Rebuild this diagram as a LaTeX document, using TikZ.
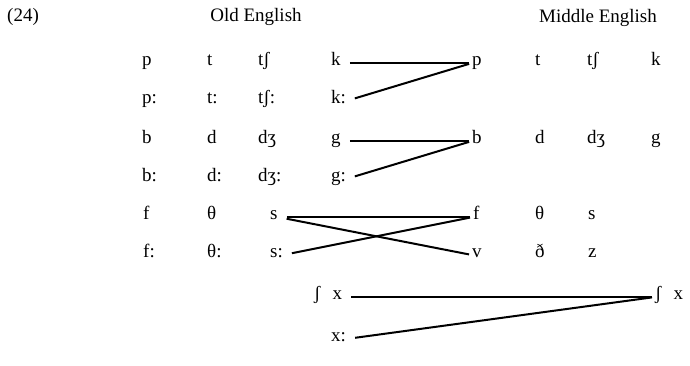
\documentclass[tikz,border=0pt]{standalone}
\usepackage{fontspec}
\setmainfont{Liberation Serif}
\usepackage{tikz}
\usetikzlibrary{positioning}

\begin{document}
\begin{tikzpicture}[
  x=1pt, y=-1pt,
  seg/.style={inner sep=0pt, anchor=west, font=\fontsize{19}{22}\selectfont,
              text height=1.5ex, text depth=.25ex},
  hd/.style={inner sep=0pt, font=\fontsize{19}{22}\selectfont},
  link/.style={line width=2pt, shorten <=9pt, shorten >=3pt},
  ]
  \useasboundingbox (0,0) rectangle (690,366);

  % headings
  \node[hd, anchor=west] (num) at (7,17) {(24)};
  \node[hd] (oe) at (256,17) {Old English};
  \node[hd] (me) at (598,18) {Middle English};

  % Old English
  \node[seg] (op)  at (142,63)  {p};
  \node[seg] (ot)  at (207,63)  {t};
  \node[seg] (otf) at (258,63)  {tʃ};
  \node[seg] (ok)  at (331,63)  {k};
  \node[seg] (opl)  at (142,101) {p:};
  \node[seg] (otl)  at (207,101) {t:};
  \node[seg] (otfl) at (258,101) {tʃ:};
  \node[seg] (okl)  at (331,101) {k:};
  \node[seg] (ob)  at (142,141) {b};
  \node[seg] (od)  at (207,141) {d};
  \node[seg] (odz) at (258,141) {dʒ};
  \node[seg] (og)  at (331,141) {g};
  \node[seg] (obl)  at (142,179) {b:};
  \node[seg] (odl)  at (207,179) {d:};
  \node[seg] (odzl) at (258,179) {dʒ:};
  \node[seg] (ogl)  at (331,179) {g:};
  \node[seg] (of)  at (143,217) {f};
  \node[seg] (oth) at (207,217) {θ};
  \node[seg] (os)  at (270,217) {s};
  \node[seg] (ofl)  at (143,255) {f:};
  \node[seg] (othl) at (207,255) {θ:};
  \node[seg] (osl)  at (270,255) {s:};
  \node[seg] (oshx) at (314,297) {ʃ\hspace{12pt}x};
  \node[seg] (oxl)  at (331,339) {x:};

  % Middle English
  \node[seg] (mp)  at (472,63)  {p};
  \node[seg] (mt)  at (535,63)  {t};
  \node[seg] (mtf) at (587,63)  {tʃ};
  \node[seg] (mk)  at (651,63)  {k};
  \node[seg] (mb)  at (472,141) {b};
  \node[seg] (md)  at (535,141) {d};
  \node[seg] (mdz) at (587,141) {dʒ};
  \node[seg] (mg)  at (651,141) {g};
  \node[seg] (mf)  at (473,217) {f};
  \node[seg] (mth) at (535,217) {θ};
  \node[seg] (ms)  at (588,217) {s};
  \node[seg] (mv)  at (472,255) {v};
  \node[seg] (mdh) at (535,255) {ð};
  \node[seg] (mz)  at (588,255) {z};
  \node[seg] (mshx) at (655,297) {ʃ\hspace{12pt}x};

  % mergers
  \draw[link] (ok.east) -- (mp.west);
  \draw[link] (okl.east) -- (mp.west);
  \draw[link] (og.east) -- (mb.west);
  \draw[link] (ogl.east) -- (mb.west);
  \draw[link] (os.east) -- (mf.west);
  \draw[link] (os.east) -- (mv.west);
  \draw[link] (osl.east) -- (mf.west);
  \draw[link] (oshx.east) -- (mshx.west);
  \draw[link] (oxl.east) -- (mshx.west);
\end{tikzpicture}
\end{document}
